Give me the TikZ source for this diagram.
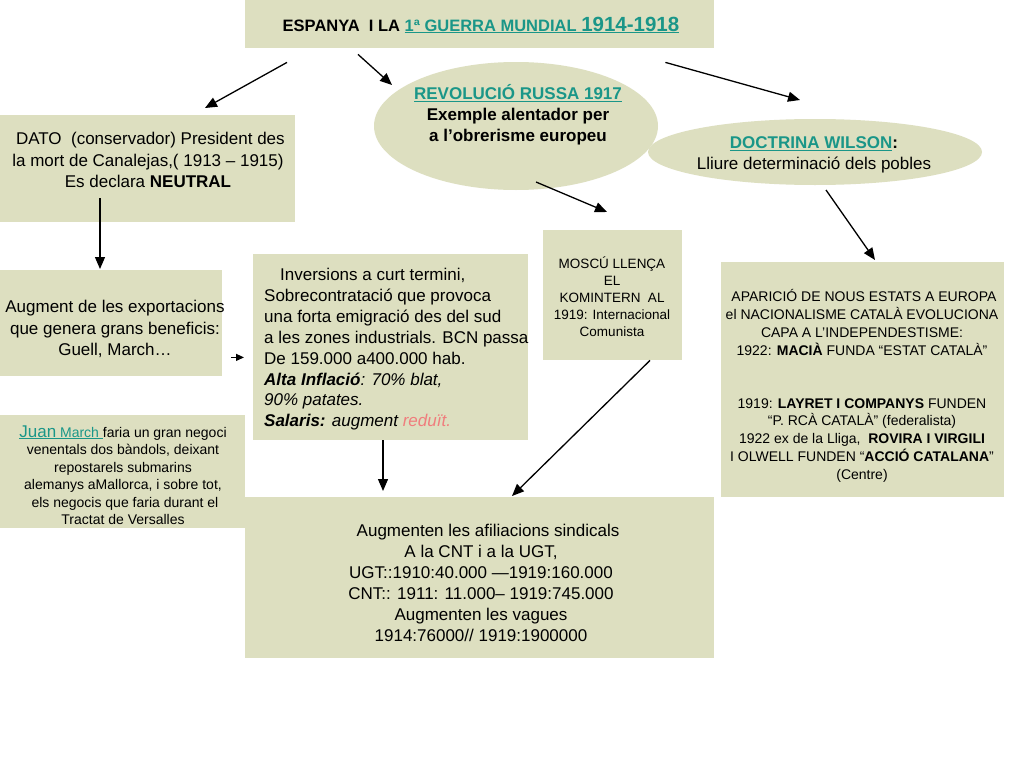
\documentclass[tikz,border=0pt]{standalone}
\usepackage{fontspec}
\setmainfont{Liberation Sans}
\usetikzlibrary{arrows.meta,shapes.geometric,calc}
\definecolor{boxfill}{RGB}{221,223,192}
\definecolor{link}{RGB}{26,150,136}
\definecolor{pinkred}{RGB}{240,125,125}
\begin{document}
\begin{tikzpicture}[x=1pt,y=-1pt,
  box/.style={draw=none,fill=boxfill,inner sep=0pt,anchor=north west},
  oval/.style={ellipse,draw=none,fill=boxfill,inner sep=0pt},
  arr/.style={-{Triangle[length=12pt,width=10pt]},line width=1.3pt,black},
  txt/.style={align=center,inner sep=0pt,font=\fontsize{17}{21.5}\selectfont},
  stxt/.style={align=center,inner sep=0pt,font=\fontsize{14}{17.5}\selectfont}]
\useasboundingbox[fill=white] (0,0) rectangle (1024,768);

% boxes and ovals
\node[box,minimum width=469pt,minimum height=48pt] (title) at (245,0) {};
\node[oval,minimum width=284pt,minimum height=128pt] (rev) at (516,126) {};
\node[oval,minimum width=334pt,minimum height=66pt] (wil) at (815,152) {};
\node[box,minimum width=295pt,minimum height=107pt] (dato) at (0,115) {};
\node[box,minimum width=222pt,minimum height=106pt] (aug) at (0,270) {};
\node[box,minimum width=275pt,minimum height=186pt] (inv) at (253,254) {};
\node[box,minimum width=139pt,minimum height=130pt] (mos) at (543,230) {};
\node[box,minimum width=283pt,minimum height=235pt] (right) at (721,262) {};
\node[box,minimum width=245pt,minimum height=113pt] (juan) at (0,415) {};
\node[box,minimum width=469pt,minimum height=161pt] (bot) at (245,497) {};

% texts
\node[inner sep=0pt,font=\fontsize{16.5}{20}\selectfont\bfseries] (titleT) at (481,25)
  {ESPANYA\ \ I LA \textcolor{link}{\underline{1ª GUERRA MUNDIAL\ {\fontsize{20.5}{20}\selectfont 1914-1918}}}};
\node[txt,font=\fontsize{17}{21}\selectfont\bfseries] (revT) at (518,115)
  {\textcolor{link}{\underline{REVOLUCIÓ RUSSA 1917}}\\Exemple alentador per\\a l’obrerisme europeu};
\node[txt,font=\fontsize{17}{20.5}\selectfont] (wilT) at (814,155)
  {\textcolor{link}{\bfseries\underline{DOCTRINA WILSON}}\textbf{:}\\Lliure determinació dels pobles};
\node[txt] (datoT) at (148,160)
  {\ DATO\ \ (conservador) President des\\la mort de Canalejas,( 1913 – 1915)\\Es declara \textbf{NEUTRAL}};
\node[txt] (augT) at (115,329)
  {Augment de les exportacions\\que genera grans beneficis:\\Guell, March…};
\node[txt,align=left,anchor=north west,font=\fontsize{17}{20.9}\selectfont] (invT) at (264,268)
  {\hspace*{16pt}Inversions a curt termini,\\Sobrecontratació que provoca\\una forta emigració des del sud\\a les zones industrials. BCN passa\\De 159.000 a400.000 hab.\\\textit{\textbf{Alta Inflació}: 70\% blat,}\\\textit{90\% patates.}\\\textit{\textbf{Salaris:} augment \textcolor{pinkred}{reduït.}}};
\node[stxt,font=\fontsize{13.5}{17}\selectfont] (mosT) at (612,297)
  {MOSCÚ LLENÇA\\EL\\KOMINTERN\ \ AL\\1919: Internacional\\Comunista};
\node[stxt,font=\fontsize{14}{17.8}\selectfont] (rightT) at (862,386)
  {\ APARICIÓ DE NOUS ESTATS A EUROPA\\el NACIONALISME CATALÀ EVOLUCIONA\\CAPA A L’INDEPENDESTISME:\\1922: \textbf{MACIÀ} FUNDA “ESTAT CATALÀ”\\[35pt]
   1919: \textbf{LAYRET I COMPANYS} FUNDEN\\“P. RCÀ CATALÀ” (federalista)\\1922 ex de la Lliga,\ \ \textbf{ROVIRA I VIRGILI}\\I OLWELL FUNDEN “\textbf{ACCIÓ CATALANA}”\\(Centre)};
\node[stxt] (juanT) at (123,475)
  {\textcolor{link}{\underline{{\fontsize{17}{17}\selectfont Juan} March\ }}faria un gran negoci\\venentals dos bàndols, deixant\\repostarels submarins\\alemanys aMallorca, i sobre tot,\\\ els negocis que faria durant el\\Tractat de Versalles};
\node[txt,font=\fontsize{17}{21}\selectfont] (botT) at (481,583)
  {\ \ \ Augmenten les afiliacions sindicals\\A la CNT i a la UGT,\\UGT::1910:40.000 —1919:160.000\\CNT:: 1911: 11.000– 1919:745.000\\Augmenten les vagues\\1914:76000// 1919:1900000};

% connectors
\draw[arr] ($(title.south west)+(42,14)$) -- ($(dato.north west)+(205,-7)$);
\draw[arr] ($(title.south west)+(113,6)$) -- ($(rev.center)+(-124,-41)$);
\draw[arr] ($(title.south east)+(-49,14)$) -- ($(wil.center)+(-15,-52)$);
\draw[arr] ($(dato.south west)+(100,-24)$) -- ($(aug.north west)+(100,-1)$);
\draw[arr] ($(rev.center)+(20,56)$) -- ($(mos.north west)+(64,-18)$);
\draw[arr] ($(wil.center)+(11,38)$) -- ($(right.north west)+(154,-2)$);
\draw[-{Triangle[length=8pt,width=7pt]},line width=1.2pt] ($(aug.south east)+(9,-19)$) -- ($(inv.south west)+(-9,-83)$);
\draw[arr] ($(inv.south west)+(130,0)$) -- ($(bot.north west)+(138,-6)$);
\draw[arr] ($(mos.south west)+(107,0)$) -- ($(bot.north west)+(267,-1)$);
\end{tikzpicture}
\end{document}
